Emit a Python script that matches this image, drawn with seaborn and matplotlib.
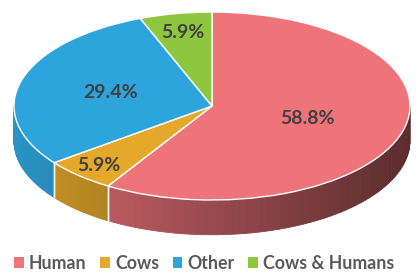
import numpy as np
import matplotlib.pyplot as plt
from matplotlib.patches import Polygon, Patch
import matplotlib.colors as mcolors
import seaborn as sns

# Data
categories = ['Human', 'Cows', 'Other', 'Cows & Humans']
shares = [58.8, 5.9, 29.4, 5.9]
colors = ['#ee7479', '#e4a82a', '#2ea4dc', '#8dc63f']
label_radius = [0.5, 0.85, 0.53, 0.8]

sns.set_theme(style='white')
plt.rcParams['font.family'] = ['Lato', 'DejaVu Sans']

fig = plt.figure(figsize=(4.17, 2.78), dpi=100)
ax = fig.add_axes([0, 0, 1, 1])

depth = 0.37
total = sum(shares)
cum = np.concatenate([[0], np.cumsum(shares)]) / total
starts = 90 - 360 * cum[:-1]
ends = 90 - 360 * cum[1:]

# --- side walls (front half only) ---
for s, e, c in zip(starts, ends, colors):
    lo, hi = max(e, -180), min(s, 0)
    if hi <= lo:
        continue
    base = np.array(mcolors.to_rgb(c))
    ts = np.radians(np.linspace(lo, hi, 60))
    for t0, t1 in zip(ts[:-1], ts[1:]):
        xm = np.cos((t0 + t1) / 2)
        f = 0.64 - 0.26 * xm
        col = np.clip(base * f, 0, 1)
        pts = [(np.cos(t0), np.sin(t0)), (np.cos(t1), np.sin(t1)),
               (np.cos(t1), np.sin(t1) - depth), (np.cos(t0), np.sin(t0) - depth)]
        ax.add_patch(Polygon(pts, closed=True, facecolor=col, edgecolor=col,
                             linewidth=0.6, zorder=1))
    # white separator at wedge boundary on the side
    for a in (lo, hi):
        if -180 < a < 0:
            r = np.radians(a)
            ax.plot([np.cos(r), np.cos(r)], [np.sin(r), np.sin(r) - depth],
                    color='white', lw=1, zorder=2)

# --- top face ---
ax.pie(shares, colors=colors, startangle=90, counterclock=False, radius=1,
       wedgeprops=dict(edgecolor='white', linewidth=1, zorder=3))

for s, e, v, r in zip(starts, ends, shares, label_radius):
    m = np.radians((s + e) / 2)
    ax.text(r * np.cos(m), r * np.sin(m), f'{v:.1f}%', ha='center', va='center',
            fontsize=14, fontweight='bold', color='#404040', zorder=5)

ax.set_aspect('auto')
ax.set_xlim(-1.0707, 1.0354)
ax.set_ylim(-1.83, 1.128)
ax.axis('off')

handles = [Patch(facecolor=c, edgecolor='none') for c in colors]
fig.legend(handles, categories, loc='lower left', bbox_to_anchor=(-0.005, -0.035),
           ncol=4, frameon=False, handlelength=0.55, handleheight=0.55,
           handletextpad=0.3, columnspacing=0.75,
           prop=dict(size=12.8, weight='bold'), labelcolor='#595959')

fig.savefig('out.png', dpi=100, facecolor='white')
